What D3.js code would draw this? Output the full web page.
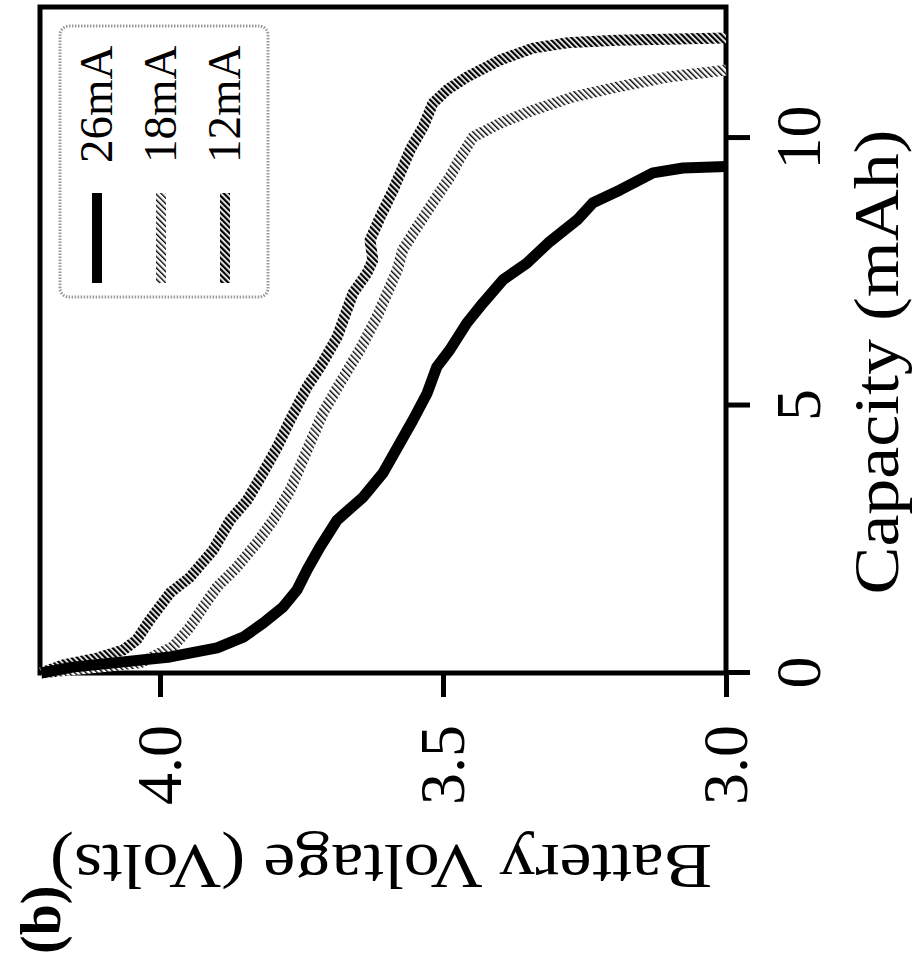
<!DOCTYPE html>
<html>
<head>
<meta charset="utf-8">
<script src="https://cdn.jsdelivr.net/npm/d3@7"></script>
<style>
  body { margin: 0; background: #fff; }
  text { font-family: "Liberation Serif", "Times New Roman", serif; fill: #000; }
</style>
</head>
<body>
<svg id="chart" width="917" height="961"></svg>
<script>
const series = ["26mA", "18mA", "12mA"];

const cap26 = [0, 0.11, 0.30, 0.47, 0.67, 0.93, 1.23, 1.55, 1.93, 2.36, 2.86, 3.29, 3.74, 4.30, 4.73, 5.23, 5.72, 6.04, 6.54, 6.92, 7.35, 7.66, 8.04, 8.47, 8.79, 9.03, 9.35, 9.44, 9.47];
const volt26 = [4.21, 4.154, 3.982, 3.899, 3.853, 3.818, 3.783, 3.758, 3.740, 3.717, 3.687, 3.641, 3.606, 3.576, 3.553, 3.528, 3.511, 3.488, 3.458, 3.429, 3.394, 3.352, 3.314, 3.263, 3.235, 3.187, 3.129, 3.076, 3.0];

const cap18 = [0, 0.19, 0.49, 0.86, 1.23, 1.61, 1.98, 2.43, 2.86, 3.42, 4.17, 4.86, 5.42, 6.04, 6.65, 7.53, 7.91, 8.22, 8.79, 9.27, 9.53, 10.02, 10.28, 10.52, 10.77, 10.95, 11.14, 11.27];
const volt18 = [4.21, 4.035, 3.977, 3.947, 3.924, 3.899, 3.864, 3.829, 3.800, 3.770, 3.740, 3.712, 3.682, 3.647, 3.617, 3.581, 3.571, 3.553, 3.518, 3.488, 3.475, 3.447, 3.399, 3.341, 3.270, 3.193, 3.104, 3.0];

const cap12 = [0, 0.15, 0.28, 0.43, 0.62, 0.99, 1.50, 1.79, 2.30, 2.86, 3.23, 3.74, 4.22, 4.73, 5.35, 5.72, 6.28, 7.10, 7.48, 7.72, 8.09, 8.52, 9.03, 9.78, 10.21, 10.65, 10.90, 11.14, 11.46, 11.68, 11.78, 11.83, 11.87];
const volt12 = [4.21, 4.171, 4.111, 4.065, 4.041, 4.018, 3.982, 3.947, 3.906, 3.876, 3.846, 3.818, 3.793, 3.770, 3.740, 3.717, 3.687, 3.659, 3.634, 3.624, 3.629, 3.611, 3.588, 3.558, 3.535, 3.518, 3.493, 3.458, 3.399, 3.341, 3.281, 3.193, 3.0];

const capTicks = [0, 5, 10];
const voltTicks = [3.0, 3.5, 4.0];

const svg = d3.select("#chart");

// the whole figure is printed turned a quarter turn counter-clockwise
const width = 666, height = 686;
const g = svg.append("g")
  .attr("transform", "translate(40,673) rotate(-90)");

const x = d3.scaleLinear().domain([0, 12.45]).range([0, width]);
const y = d3.scaleLinear().domain([3.0, 4.212]).range([height, 0]);

const defs = svg.append("defs");
function hatch(id, w) {
  const p = defs.append("pattern")
    .attr("id", id)
    .attr("patternUnits", "userSpaceOnUse")
    .attr("width", 4).attr("height", 4)
    .attr("patternTransform", "rotate(45)");
  p.append("rect").attr("width", 4).attr("height", 4).attr("fill", "#fff");
  p.append("rect").attr("width", w).attr("height", 4).attr("fill", "#000");
}
hatch("h18", 1.4);
hatch("h12", 2.3);

const strokes = { "26mA": "#000", "18mA": "url(#h18)", "12mA": "url(#h12)" };
const data = {
  "26mA": cap26.map((c, i) => [c, volt26[i]]),
  "18mA": cap18.map((c, i) => [c, volt18[i]]),
  "12mA": cap12.map((c, i) => [c, volt12[i]])
};

const line = d3.line()
  .x(d => x(d[0]))
  .y(d => y(d[1]));

// frame
g.append("rect")
  .attr("width", width).attr("height", height)
  .attr("fill", "none").attr("stroke", "#000").attr("stroke-width", 5);

// curves, 26mA on top
series.slice().reverse().forEach(s => {
  g.append("path")
    .datum(data[s])
    .attr("d", line)
    .attr("fill", "none")
    .attr("stroke", strokes[s])
    .attr("stroke-width", 11)
    .attr("stroke-linejoin", "round");
});

// capacity axis (right side on screen)
const xAxis = g.append("g")
  .attr("transform", "translate(0," + height + ")")
  .call(d3.axisBottom(x).tickValues(capTicks).tickSize(24).tickSizeOuter(0).tickPadding(25));

// voltage axis (bottom on screen)
const yAxis = g.append("g")
  .call(d3.axisLeft(y).tickValues(voltTicks).tickFormat(d3.format(".1f"))
    .tickSize(24).tickSizeOuter(0).tickPadding(28));

[xAxis, yAxis].forEach(a => {
  a.select(".domain").remove();
  a.selectAll(".tick line").attr("stroke", "#000").attr("stroke-width", 5);
  a.selectAll(".tick text")
    .style("font-family", "'Liberation Serif', serif")
    .style("font-size", "64px")
    .attr("fill", "#000");
});

// axis titles
g.append("text")
  .attr("x", 311).attr("y", 858)
  .attr("text-anchor", "middle")
  .attr("textLength", 465).attr("lengthAdjust", "spacingAndGlyphs")
  .style("font-size", "64px")
  .text("Capacity (mAh)");

g.append("text")
  .attr("transform", "translate(-172,341) rotate(-90)")
  .attr("text-anchor", "middle")
  .attr("textLength", 662).attr("lengthAdjust", "spacingAndGlyphs")
  .style("font-size", "64px")
  .text("Battery Voltage (Volts)");

g.append("text")
  .attr("x", -281).attr("y", 20)
  .style("font-size", "56px")
  .style("font-weight", "bold")
  .text("(b)");

// legend
const legend = g.append("g");
legend.append("rect")
  .attr("x", 376).attr("y", 20)
  .attr("width", 271).attr("height", 208)
  .attr("rx", 9)
  .attr("fill", "none")
  .attr("stroke", "#999")
  .attr("stroke-width", 3)
  .attr("stroke-dasharray", "1.5,1.5");

const rowY = d3.scalePoint().domain(series).range([57, 185]);
series.forEach(s => {
  legend.append("line")
    .attr("x1", 390).attr("x2", 480)
    .attr("y1", rowY(s)).attr("y2", rowY(s))
    .attr("stroke", strokes[s])
    .attr("stroke-width", 10);
  legend.append("text")
    .attr("x", 510).attr("y", rowY(s) + 15)
    .style("font-size", "47px")
    .text(s);
});
</script>
</body>
</html>
